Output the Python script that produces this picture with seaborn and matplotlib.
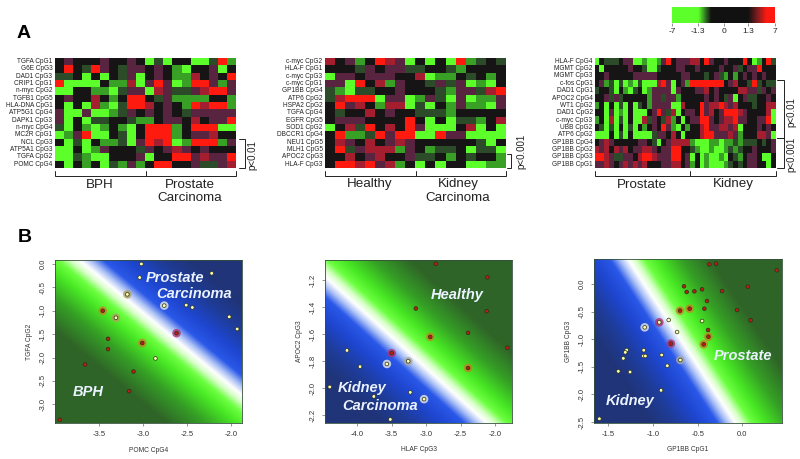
import numpy as np
import pandas as pd
import seaborn as sns
import matplotlib.pyplot as plt
from matplotlib.colors import LinearSegmentedColormap

sns.set_theme()
sns.set_style("ticks")
plt.rcParams["font.family"] = ["Liberation Sans", "DejaVu Sans"]

# heatmaps, scores (-6 bright green ... 6 bright red)
rows_a1 = ["TGFA CpG1", "G6E CpG3", "DAD1 CpG3", "CRIP1 CpG1", "n-myc CpG2", "TGFB1 CpG5", "HLA-DNA CpG1",
           "ATP5G1 CpG4", "DAPK1 CpG3", "n-myc CpG4", "MC2R CpG1", "NCL CpG3", "ATP5A1 CpG3", "TGFA CpG2", "POMC CpG4"]
heat_a1 = [
    [0, 1, 0, 0, 0, 1, 0, 0, 1, 0, -6, -1, -6, 0, 0, -6, -6, -1, 6, -3],
    [0, 6, 0, -1, 6, 1, 0, -1, 1, 1, 0, 1, 0, -3, -6, 0, 0, 1, -6, 0],
    [-1, -1, 0, -6, 0, -6, 0, -1, 1, -6, 0, 1, 0, -3, -3, 3, 0, 1, 0, 6],
    [6, -6, -6, -6, -6, 0, -3, -3, 3, -6, 1, 6, 1, -6, -3, 6, 6, 1, -3, 1],
    [-6, -6, 0, 0, -3, -3, -6, -1, 1, 1, -6, 3, 1, -1, -1, 1, 3, 6, 6, 1],
    [0, 1, 0, 0, 3, 0, -3, 0, 6, 6, 0, -1, 1, -3, -3, -3, -3, 0, 0, -3],
    [0, -6, 0, -6, 3, -3, -6, -1, 6, 6, 3, 0, 1, 0, -3, 6, 3, 6, 6, -3],
    [1, -6, -6, 1, -6, -6, -3, -1, 1, 0, 1, 0, 1, 0, -1, 1, 1, 1, 1, 1],
    [1, -6, 0, -6, -1, -1, 0, 0, -1, -3, -3, 0, 1, 1, 0, 3, 0, 1, 1, 6],
    [-1, -6, 0, -3, -6, -3, 0, -3, -6, 0, 6, 6, 6, -3, 0, 6, 6, 6, -6, -6],
    [-6, -3, 1, 6, -6, -6, 0, -1, -6, 0, 6, 6, 6, -3, 0, 1, 1, 3, 0, 0],
    [0, -6, -1, -6, 0, -3, -3, -1, -6, 1, 6, 3, 6, -6, -3, 6, 6, 6, -3, 1],
    [-6, -6, 0, -6, -3, 1, 0, 0, 0, -1, 1, 0, 1, 3, 1, 0, 1, 0, 0, 0],
    [-6, -6, -1, -3, -6, -6, 0, 0, 0, 1, -6, 0, 0, 6, 6, 1, 3, 1, 1, 6],
    [0, -6, 0, -3, 0, -6, -1, -3, 1, -3, 0, 6, 6, 0, 0, 1, -1, -1, 1, 3],
]

rows_a2 = ["c-myc CpG2", "HLA-F CpG1", "c-myc CpG3", "c-myc CpG1", "GP1BB CpG4", "ATP6 CpG2", "HSPA2 CpG2", "TGFA CpG4",
           "EGFR CpG5", "SOD1 CpG2", "DBCCR1 CpG4", "NEU1 CpG5", "MLH1 CpG5", "APOC2 CpG3", "HLA-F CpG3"]
heat_a2 = [
    [3, 0, 1, -3, 0, 6, 3, 1, -6, 0, -6, 0, -6, 6, -3, -1, 0, -1],
    [0, 0, 0, -1, 1, 0, 1, 1, -1, -1, 0, 0, -1, -3, 0, 0, 0, 0],
    [-6, 1, 1, 0, 1, 1, 1, 0, 0, 3, -6, -3, -3, 0, -1, 0, -3, 0],
    [1, 1, -6, 6, 0, 3, -3, 1, 0, 0, -1, 1, -1, 1, -6, -3, -6, 0],
    [-1, -3, -6, -1, -1, 0, 0, 1, 0, 0, 0, -1, -3, 1, 1, -1, 3, 6],
    [-1, 3, 6, 6, 6, -6, 1, 1, -6, -3, 1, -1, -6, 1, -6, -3, -3, 1],
    [0, 6, 1, 3, 0, -3, 3, 3, -6, -1, -6, 0, -3, 1, -3, -3, -6, 1],
    [0, -1, 0, 0, 3, 0, 1, 0, 0, -1, -1, -1, -3, 0, 0, 0, 0, 0],
    [0, 1, 1, 1, 0, 0, 0, 0, 6, 0, -6, 0, -6, -1, -1, -3, 0, 3],
    [-6, 0, 3, -1, 6, 0, 3, 0, 6, 1, -6, -6, -6, 0, 3, -6, 0, -6],
    [0, 6, -3, -3, -1, 6, 1, 6, 6, -6, -6, 6, 1, 1, -6, -6, -6, -6],
    [0, 3, 1, 0, 3, 0, 1, 3, 1, 0, 0, 0, 0, 0, 0, -1, -6, 0],
    [0, 6, -1, 1, 3, 3, 3, -3, 1, 0, -3, -1, -1, 0, -6, -1, -1, -6],
    [0, 0, 3, 0, 1, 3, 0, 0, 1, -1, -1, 0, -3, 0, -1, 0, 0, -3],
    [0, 6, 6, 3, 6, 1, 3, -3, 0, -6, 0, -6, 0, 0, -6, -6, -3, -3],
]

rows_a3 = ["HLA-F CpG4", "MGMT CpG2", "MGMT CpG3", "c-fos CpG1", "DAD1 CpG1", "APOC2 CpG4", "WT1 CpG2", "DAD1 CpG2",
           "c-myc CpG3", "UBB CpG2", "ATP6 CpG2", "GP1BB CpG4", "GP1BB CpG2", "GP1BB CpG3", "GP1BB CpG1"]
heat_a3 = [
    [-6, 0, -1, -1, -1, 0, 1, 1, -6, -6, -3, -6, -6, -3, 1, 6, 0, 1, 1, 1, 3, 3, 0, 6, 1, 0, 0, 1, 0, 0, 0, 6, 0, -6, -3, 0, 6, -1],
    [0, -6, 0, 0, 0, 0, 0, 1, 0, 0, -1, -6, -6, -1, 0, 0, 0, 1, 1, 0, 0, 1, 0, 0, 0, 0, 1, 0, 0, 1, -1, 0, 1, 1, 6, 0, 0, 0],
    [0, 0, 1, 0, 0, 0, 0, 0, 1, 1, 1, 1, 1, 0, 0, 0, 0, 0, 1, 1, 0, 0, 0, -1, 0, 1, -1, -3, 0, -3, 0, 1, 0, 1, 0, 1, 0, 0],
    [0, 1, -3, -1, -6, -1, -6, -3, -6, -1, -6, -6, -6, 3, 6, 1, -6, 0, 1, -3, 6, 6, 6, 6, 6, 6, 6, 0, 1, 3, 0, 0, -1, 6, -1, 0, -1, -1],
    [-1, 0, 0, -1, -6, 0, -3, -6, -1, 0, -6, -3, 1, 1, 1, 1, -6, 1, 0, 0, 0, 1, 1, 3, 0, 1, 0, 0, 0, 0, 3, 3, 1, 1, -1, 1, 0, 1],
    [0, 0, 1, -1, 1, -1, 0, 0, 0, 0, 0, -3, 1, 1, -1, 1, 1, -3, 0, 0, 0, 0, 0, 1, 0, 1, 0, -1, 1, -6, 0, 1, -1, -1, 0, 0, 1, 0],
    [-3, 0, -6, 0, -6, -1, -6, 0, -6, -1, 0, -3, 1, 1, 1, 1, -6, -6, 3, 0, 0, 0, 6, 1, 3, 3, 6, 3, 1, 3, 0, 0, 0, -1, 0, 0, 3, 3],
    [0, 0, -6, 1, -6, -3, -6, 0, -6, -6, -6, 0, 1, 6, 1, -1, 3, -6, 0, 1, 1, 0, 6, 1, 3, 0, 1, 6, 6, 6, 3, 1, 0, 0, 0, 0, 3, -6],
    [-3, 0, -6, 3, -6, -1, -6, 0, -6, -6, 3, -1, 1, 0, -1, 3, -3, 0, -6, 0, 1, 1, 6, 6, 1, 0, 1, 3, 3, 6, 1, 1, 0, 0, 1, 1, 6, -6],
    [0, -1, -6, -1, -6, 0, -6, -1, -6, 0, -3, 0, 1, 0, 6, 1, -3, -6, 0, -3, 0, 0, 3, 6, 1, 1, 3, 3, 1, 3, -6, 0, 0, 0, 1, 0, 1, 0],
    [-6, -6, -6, 0, -6, -1, -6, 0, -6, -6, -6, -6, -1, 1, 1, 0, 3, 0, -6, 0, 0, 0, 3, 6, 6, 1, 1, 1, 3, 1, -3, 0, 0, 0, 3, 3, 1, -6],
    [0, 1, 3, 1, 0, 0, 0, 0, 0, 1, 1, 0, -1, -6, 0, 1, 3, 3, 3, 3, -3, -6, -6, -6, -3, -3, -6, -3, -3, -1, -3, -1, -1, -1, 0, -1, 0, 1],
    [3, 1, 3, 0, 3, 1, 3, 0, 1, 1, 3, 3, 1, 0, 1, 1, 6, 6, 0, 0, -1, -3, -6, -6, -3, -6, -6, -3, -1, -3, -1, 0, 0, 1, 0, 0, 0, 1],
    [6, 6, 3, 1, -1, -1, 1, 1, 0, 3, 6, 6, 3, 1, 1, 1, 6, 6, 0, 1, -6, 0, -6, -3, -6, -6, -3, -6, 0, -1, -3, 0, 1, 1, 0, -6, -6, 0],
    [1, 1, 3, 1, 0, 1, 3, 1, 3, 1, 3, 0, 0, 0, 1, 1, 3, 3, 0, 1, -3, 0, -6, -3, -6, -6, -6, -3, -1, 0, -1, 0, 1, 1, 0, 0, -6, 0],
]

# scatter panels: x, y, class (0 tumour / blue side, 1 green side), halo colour name
b1_x = [-3.02, -3.04, -2.22, -3.18, -2.76, -2.51, -2.44, -2.02, -1.93, -2.86, -3.31,
        -2.62, -3.46, -3.40, -3.40, -3.01, -3.66, -3.11, -3.16, -3.95]
b1_y = [0.0, -0.29, -0.20, -0.65, -0.89, -0.88, -0.93, -1.13, -1.39, -2.02, -1.15,
        -1.48, -1.00, -1.60, -1.82, -1.69, -2.15, -2.30, -2.72, -3.33]
b1_cls = [0] * 11 + [1] * 9
b1_halo = ["", "", "", "tan", "white", "", "", "", "", "", "tan",
           "magenta", "orange", "", "", "orange", "", "", "", ""]

b2_x = [-4.15, -3.96, -4.40, -3.57, -3.26, -3.76, -3.23, -3.03, -3.52,
        -2.86, -2.11, -3.15, -2.12, -2.94, -2.39, -1.82, -2.39, -3.50]
b2_y = [-1.72, -1.84, -1.99, -1.82, -1.80, -2.06, -2.03, -2.08, -2.23,
        -1.08, -1.18, -1.41, -1.43, -1.62, -1.59, -1.70, -1.85, -1.74]
b2_cls = [0] * 9 + [1] * 9
b2_halo = ["", "", "", "white", "gray", "", "", "white", "",
           "", "", "", "", "orange", "", "", "orange", "magenta"]

b3_x = [-1.093, -1.295, -1.31, -1.332, -1.104, -1.108, -1.086, -0.903, -0.694, -0.84, -1.388, -1.257, -0.91, -1.60,
        -0.825, -0.731, -0.451, -0.93,
        -0.37, -0.295, 0.384, -0.653, -0.623, -0.537, -0.451, -0.228, 0.06, -0.396, -0.698, -0.59, -0.425,
        -0.06, 0.093, -0.384, -0.38, -0.433, -0.80]
b3_y = [-0.785, -1.196, -1.238, -1.347, -1.20, -1.304, -1.304, -1.286, -1.377, -1.48, -1.582, -1.594, -1.926, -2.44,
        -0.652, -0.87, -0.67, -0.694,
        0.356, 0.368, 0.248, -0.042, -0.145, -0.133, -0.097, -0.127, -0.048, -0.308, -0.483, -0.447, -0.447,
        -0.471, -0.658, -0.833, -0.954, -1.093, -1.08]
b3_cls = [0] * 18 + [1] * 19
b3_halo = ["white", "", "", "", "", "", "", "", "gray", "", "", "", "", "",
           "", "", "", "magenta",
           "", "", "", "", "", "", "", "", "", "", "orange", "orange", "",
           "", "", "", "orange", "orange", "magenta"]

# decision boundary ends in data units
b1_line = [(-3.72, 0.086), (-1.875, -2.80)]
b2_line = [(-4.465, -1.175), (-2.12, -2.254)]
b3_line = [(-1.276, 0.435), (-0.082, -2.512)]

W, H = 800, 459
fig = plt.figure(figsize=(8, 4.59), dpi=100)


def box(left, top, right, bottom):
    return fig.add_axes([left / W, 1 - bottom / H, (right - left) / W, (bottom - top) / H])


heat_cmap = LinearSegmentedColormap.from_list("heat", [
    (0 / 14, "#5CFF2A"), (1 / 14, "#5CFF2A"), (4 / 14, "#38A024"), (6 / 14, "#2C4A28"), (7 / 14, "#141414"),
    (8 / 14, "#582440"), (10 / 14, "#A51E30"), (13 / 14, "#FF1A10"), (14 / 14, "#FF1A10")])


def draw_heat(values, names, rect):
    ax = box(*rect)
    df = pd.DataFrame(values, index=names)
    sns.heatmap(df, ax=ax, cmap=heat_cmap, vmin=-7, vmax=7, cbar=False, xticklabels=False, yticklabels=True)
    ax.tick_params(axis="y", length=0, pad=1.5, labelsize=4.7, labelrotation=0, colors="#222222")
    ax.set_xlabel("")
    ax.set_ylabel("")


draw_heat(heat_a1, rows_a1, (54.5, 58, 236, 168))
draw_heat(heat_a2, rows_a2, (324.7, 58, 506, 168))
draw_heat(heat_a3, rows_a3, (594.7, 57.5, 776, 168))

# colour key
key = box(672, 7, 775, 23)
key_cmap = LinearSegmentedColormap.from_list("key", [
    (0, "#5CFF2A"), (0.256, "#5CFF2A"), (0.33, "#2C6A20"), (0.38, "#111111"), (0.74, "#111111"),
    (0.84, "#8A1E20"), (0.92, "#FF1A10"), (1, "#FF1A10")])
key.imshow(np.linspace(0, 1, 256)[None, :], cmap=key_cmap, aspect="auto", extent=[0, 1, 0, 1])
key.set_yticks([])
key.set_xticks([0, 0.256, 0.5, 0.74, 1])
key.set_xticklabels(["-7", "-1.3", "0", "1.3", "7"], fontsize=6, color="#222222")
key.tick_params(axis="x", length=2, width=0.4, pad=1.5, color="#444444")
sns.despine(ax=key, left=True, right=True, top=True, bottom=True)

# background of the scatter panels: white on the boundary, blue one side, green the other
field_cmap = LinearSegmentedColormap.from_list("field", [
    (0 / 160, "#203478"), (10 / 160, "#203478"), (30 / 160, "#1E3C98"), (50 / 160, "#1E46D0"), (65 / 160, "#2A58E8"),
    (73 / 160, "#A8BEF5"), (80 / 160, "#FFFFFF"), (86 / 160, "#D8FFC8"), (94 / 160, "#6CFF40"),
    (105 / 160, "#48E824"), (125 / 160, "#35A025"), (150 / 160, "#2F6428"), (160 / 160, "#2F6428")])
halo_colors = {"white": "#E8E8E8", "gray": "#A8A8A0", "tan": "#B0A060", "orange": "#C88020", "magenta": "#B03070"}


def draw_scatter(x, y, cls, halo, line, rect, xlim, ylim, xticks, yticks, xlabel, ylabel, sign):
    ax = box(*rect)
    px_w, px_h = rect[2] - rect[0], rect[3] - rect[1]
    gx, gy = np.meshgrid(np.linspace(0, px_w, 300), np.linspace(0, px_h, 260))
    x0 = (line[0][0] - xlim[0]) / (xlim[1] - xlim[0]) * px_w
    y0 = (ylim[1] - line[0][1]) / (ylim[1] - ylim[0]) * px_h
    x1 = (line[1][0] - xlim[0]) / (xlim[1] - xlim[0]) * px_w
    y1 = (ylim[1] - line[1][1]) / (ylim[1] - ylim[0]) * px_h
    length = np.hypot(x1 - x0, y1 - y0)
    dist = sign * ((gx - x0) * (y1 - y0) - (gy - y0) * (x1 - x0)) / length
    ax.imshow(dist, cmap=field_cmap, vmin=-80, vmax=80, aspect="auto", extent=[xlim[0], xlim[1], ylim[0], ylim[1]], zorder=0)

    df = pd.DataFrame({"x": x, "y": y, "cls": cls, "halo": halo})
    sns.scatterplot(data=df[df.halo != ""], x="x", y="y", hue="halo", palette=halo_colors, s=38, linewidth=0,
                    alpha=0.8, legend=False, ax=ax, zorder=2)
    sns.scatterplot(data=df, x="x", y="y", hue="cls", palette={0: "#FFFFB0", 1: "#C01C10"}, s=7, edgecolor="#26301A",
                    linewidth=0.5, legend=False, ax=ax, zorder=3)
    ax.set_xlim(xlim)
    ax.set_ylim(ylim)
    ax.set_xticks(xticks)
    ax.set_yticks(yticks)
    ax.set_xticklabels([f"{t:.1f}" for t in xticks])
    ax.set_yticklabels([f"{t:.1f}" for t in yticks], rotation=90, va="center")
    ax.tick_params(length=2.5, width=0.4, labelsize=5.5, pad=3.5, color="#444444", labelcolor="#333333")
    ax.set_xlabel(xlabel, fontsize=4.8, color="#333333", labelpad=6)
    ax.set_ylabel(ylabel, fontsize=4.8, color="#333333", labelpad=5)
    for s in ax.spines.values():
        s.set_linewidth(0.6)
        s.set_color("#34503A")


draw_scatter(b1_x, b1_y, b1_cls, b1_halo, b1_line, (55.3, 260, 242, 423), (-4.0, -1.875), (-3.4, 0.085),
             [-3.5, -3.0, -2.5, -2.0], [0.0, -0.5, -1.0, -1.5, -2.0, -2.5, -3.0], "POMC CpG4", "TGFA CpG2", -1)
draw_scatter(b2_x, b2_y, b2_cls, b2_halo, b2_line, (325.3, 260, 512.3, 422.7), (-4.465, -1.748), (-2.254, -1.052),
             [-4.0, -3.5, -3.0, -2.5, -2.0], [-1.2, -1.4, -1.6, -1.8, -2.0, -2.2], "HLAF CpG3", "APOC2 CpG3", 1)
draw_scatter(b3_x, b3_y, b3_cls, b3_halo, b3_line, (594.3, 259.3, 781.7, 422.7), (-1.657, 0.44), (-2.512, 0.447),
             [-1.5, -1.0, -0.5, 0.0], [0.0, -0.5, -1.0, -1.5, -2.0, -2.5], "GP1BB CpG1", "GP1BB CpG3", 1)

# everything else is placed in picture pixels on a clear layer on top
top = fig.add_axes([0, 0, 1, 1], facecolor="none", zorder=10)
top.set_xlim(0, W)
top.set_ylim(H, 0)
top.axis("off")

top.text(17, 34, "A", fontsize=14, fontweight="bold", color="black", va="center")
top.text(18, 237, "B", fontsize=14, fontweight="bold", color="black", va="center")


def group_bracket(left, mid, right):
    top.plot([left, left, right, right], [171, 175.5, 175.5, 171], color="#222222", lw=0.7, solid_joinstyle="miter")
    top.plot([mid, mid], [171, 175.5], color="#222222", lw=0.7)


group_bracket(54.5, 145.5, 236)
group_bracket(324.7, 415.5, 506)
group_bracket(594.7, 690, 776)

for tx, ty, label in [(100, 184.5, "BPH"), (190, 184.5, "Prostate"), (190, 198, "Carcinoma"),
                      (370, 184.5, "Healthy"), (458, 184.5, "Kidney"), (458, 198, "Carcinoma"),
                      (642, 184.5, "Prostate"), (733, 184.5, "Kidney")]:
    top.text(tx, ty, label, fontsize=9.6, ha="center", va="center", color="#222222")


def side_bracket(x0, x1, y0, y1):
    top.plot([x0, x1, x1, x0], [y0, y0, y1, y1], color="#222222", lw=0.7, solid_joinstyle="miter")


side_bracket(239, 245, 139, 168)
side_bracket(507, 511, 154, 168)
side_bracket(777, 784, 80, 137.7)
side_bracket(777, 784, 137.7, 168)

for tx, ty, label in [(252, 155, "p<0.01"), (521.7, 151.7, "p<0.001"), (791.7, 111.7, "p<0.01"), (791.7, 154, "p<0.001")]:
    top.text(tx, ty, label, fontsize=7, rotation=90, ha="center", va="center", color="#222222")

for tx, ty, label in [(175, 278, "Prostate"), (194, 294, "Carcinoma"), (88.5, 392, "BPH"),
                      (457, 295, "Healthy"), (362, 388, "Kidney"), (380, 406, "Carcinoma"),
                      (743, 356, "Prostate"), (630, 401, "Kidney")]:
    top.text(tx, ty, label, fontsize=10.5, fontweight="bold", fontstyle="italic", ha="center", va="center", color="#EAF2FF")

fig.savefig("out.png", dpi=100)
